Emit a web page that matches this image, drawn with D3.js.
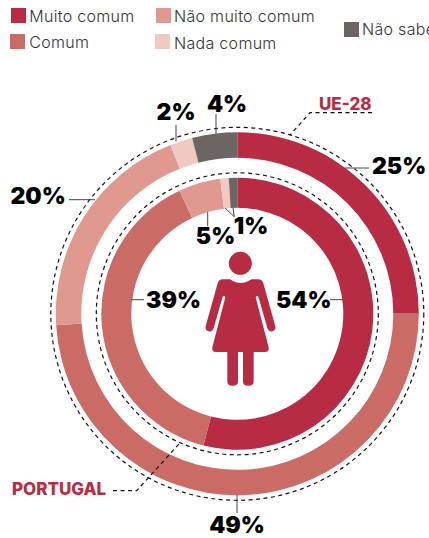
<!DOCTYPE html>
<html><head><meta charset="utf-8">
<script src="https://cdn.jsdelivr.net/npm/d3@7/dist/d3.min.js"></script>
<style>html,body{margin:0;padding:0;background:#fff;overflow:hidden}svg{display:block}</style>
</head><body><svg id="c" width="429" height="538"></svg>
<script>
const categories=["Muito comum","Comum","Não muito comum","Nada comum","Não sabe"];
const colors=["#B82C43","#CB6B66","#E0998F","#F0C9C1","#6B6563"];
const ue28=[25,49,20,2,4];
const portugal=[54,39,5,1,1];
const seriesNames=["UE-28","PORTUGAL"];

const svg=d3.select("#c");
const cx=237.3,cy=313.8;
const color=d3.scaleOrdinal(categories,colors);
const pie=d3.pie().sort(null);
const rings=[{v:ue28,r0:156,r1:181.5,dash:186.5},{v:portugal,r0:106,r1:136,dash:141}];
const g=svg.append("g").attr("transform",`translate(${cx},${cy})`);
const dashStyle=s=>s.attr("stroke","#111").attr("stroke-width",1.2).attr("stroke-dasharray","4 3.5").attr("fill","none");
rings.forEach(r=>{
  const arc=d3.arc().innerRadius(r.r0).outerRadius(r.r1);
  g.append("g").selectAll("path").data(pie(r.v)).join("path")
    .attr("d",arc).attr("fill",(d,i)=>color(categories[i]));
  g.append("circle").attr("r",r.dash).call(dashStyle);
});

// legend
const legendPos=[[11,8,29.3,21.7],[10,34,29.3,48.3],[156,8,174,22.3],[155,34,174,48.5],[344,22,362,35.3]];
categories.forEach((c,i)=>{
  const p=legendPos[i];
  svg.append("rect").attr("x",p[0]).attr("y",p[1]).attr("width",15).attr("height",15).attr("fill",colors[i]);
  svg.append("text").attr("x",p[2]).attr("y",p[3]).text(c)
    .attr("font-family","Inter").attr("font-weight",300).attr("font-size",16).attr("letter-spacing",0.3).attr("fill","#333");
});

// leader lines
const leaders=[[[369,168],[345,168]],[[69,199.7],[95,199.7]],[[176,125],[176,141.5]],[[216,114],[216,134]],[[237,495],[237,513]],
 [[144,299.7],[131,299.7]],[[330,299.7],[343,299.7]],[[207.7,211.7],[207.7,226]],[[225,208],[234.3,216.7]],[[233,208],[234.3,216.7]]];
svg.append("g").selectAll("path").data(leaders).join("path")
  .attr("d",d=>d3.line()(d)).attr("stroke","#444").attr("stroke-width",1).attr("fill","none");

// callouts
const callouts=[[[372,112.7],[310,112.7],[290,135]],[[113,490.7],[136.7,490.7],[181,441.7]]];
svg.append("g").selectAll("path").data(callouts).join("path")
  .attr("d",d=>d3.line()(d)).call(dashStyle);

// value labels
const valPos=[[372,174.3,"start"],[237,533,"middle"],[10.5,204,"start"],[176,120,"middle"],[227,111.7,"middle"]];
const valPos2=[[276,308.3,"start"],[146,308.3,"start"],[215.5,244,"middle"],[0,0,"none"],[251,233.5,"middle"]];
function lab(v,p){svg.append("text").attr("x",p[0]).attr("y",p[1]).attr("text-anchor",p[2]).text(v+"%")
  .attr("font-family","Inter").attr("font-weight",900).attr("font-size",23).attr("fill","#000");}
ue28.forEach((v,i)=>lab(v,valPos[i]));
portugal.forEach((v,i)=>{if(valPos2[i][2]!=="none")lab(v,valPos2[i]);});

// series names
const namePos=[[319,110],[12,495.3]];
seriesNames.forEach((n,i)=>svg.append("text").attr("x",namePos[i][0]).attr("y",namePos[i][1]).text(n)
  .attr("font-family","Inter").attr("font-weight",800).attr("font-size",17).attr("fill","#B82C43"));

// figure
const fig=svg.append("g").attr("transform","translate(190,240) scale(0.3333)").attr("fill","#B82C43");
fig.append("circle").attr("cx",151).attr("cy",70).attr("r",34.5);
fig.append("path").attr("d","M120 118 Q151 140 185 118 L205 118 Q216 118 220 130 L255 255 Q260 270 247 274 Q236 276 232 264 L205 170 Q200 165 197 172 L236 322 Q238 336 225 336 L191 336 L191 425 Q191 437 175 437 Q159 437 159 425 L159 336 L144 336 L144 425 Q144 437 128 437 Q112 437 112 425 L112 336 L78 336 Q65 336 67 322 L106 172 Q103 165 98 170 L71 264 Q67 276 56 274 Q43 270 48 255 L83 130 Q87 118 98 118 Z");
</script></body></html>
